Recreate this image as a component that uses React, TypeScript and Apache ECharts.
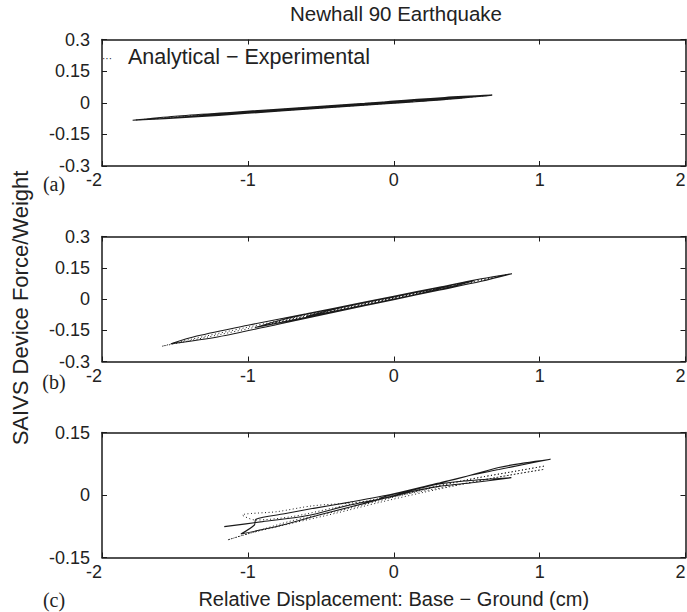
import React, { useEffect, useRef } from 'react';
import * as echarts from 'echarts';

const TITLE = 'Newhall 90 Earthquake';
const X_NAME = 'Relative Displacement: Base \u2212 Ground (cm)';
const Y_NAME = 'SAIVS Device Force/Weight';
const PANEL_LABELS = ['(a)', '(b)', '(c)'];
const LEGEND_DOTS = '\u00b7\u00b7\u00b7';
const LEGEND_TEXT = 'Analytical \u2212 Experimental';
const X_LIMITS = [-2, 2];
const X_STEP = 1;
const Y_LIMITS = [[-0.3, 0.3], [-0.3, 0.3], [-0.15, 0.15]];
const Y_STEP = 0.15;

// Panel (a)
const expA = [
  [-0.3, -0.013], [0.0, 0.008], [0.35, 0.025], [0.675, 0.036], [0.4, 0.018], [0.0, -0.002],
  [-0.5, -0.026], [-1.0, -0.050], [-1.4, -0.069], [-1.79, -0.083], [-1.5, -0.064], [-1.1, -0.045],
  [-0.6, -0.021], [-0.2, -0.003], [0.2, 0.017], [0.55, 0.031], [0.3, 0.012], [-0.2, -0.011],
  [-0.8, -0.040], [-1.2, -0.057], [-0.9, -0.037], [-0.4, -0.013], [0.1, 0.010], [0.45, 0.026],
  [0.15, 0.006], [-0.3, -0.016], [-0.7, -0.035], [-1.6, -0.076], [-1.0, -0.044], [-0.2, -0.006],
  [0.6, 0.033],
];
const anaA = [
  [-0.2, -0.007], [0.2, 0.014], [0.66, 0.035], [0.3, 0.014], [-0.4, -0.020], [-1.0, -0.047],
  [-1.77, -0.082], [-1.3, -0.057], [-0.6, -0.024], [0.1, 0.010], [0.5, 0.028], [0.0, 0.001],
  [-0.9, -0.042], [-0.3, -0.011],
];

// Panel (b)
const expB = [
  [-0.3, -0.031], [0.0, 0.013], [0.3, 0.055], [0.6, 0.097], [0.81, 0.1215], [0.6, 0.085],
  [0.3, 0.041], [0.0, -0.003], [-0.4, -0.062], [-0.8, -0.122], [-1.2, -0.181], [-1.527, -0.2146],
  [-1.35, -0.178], [-1.0, -0.126], [-0.6, -0.071], [-0.2, -0.015], [0.2, 0.040], [0.55, 0.088],
  [0.3, 0.043], [0.0, 0.000], [-0.5, -0.074], [-0.95, -0.137], [-0.7, -0.089], [-0.3, -0.032],
  [0.1, 0.025], [0.4, 0.066], [0.15, 0.022], [-0.3, -0.043], [-0.6, -0.084], [-0.35, -0.040],
  [0.0, 0.010], [0.25, 0.044],
];
const anaB = [
  [-0.2, -0.022], [0.2, 0.036], [0.5, 0.079], [0.79, 0.119], [0.55, 0.082], [0.2, 0.031],
  [-0.2, -0.027], [-0.7, -0.099], [-1.2, -0.172], [-1.59, -0.227], [-1.4, -0.195], [-1.0, -0.135],
  [-0.6, -0.077], [-0.2, -0.019], [0.2, 0.038], [0.5, 0.081], [0.2, 0.033], [-0.3, -0.040],
  [-0.9, -0.127], [-0.5, -0.065], [0.0, 0.006], [0.3, 0.049],
];

// Panel (c)
const expC = [
  [-0.1, -0.008], [0.0, 0.002], [0.25, 0.023], [0.45, 0.04], [0.72, 0.066], [0.9, 0.077],
  [1.075, 0.0857], [0.9, 0.074], [0.72, 0.061], [0.5, 0.045], [0.3, 0.028], [0.0, 0.003],
  [-0.3, -0.017], [-0.55, -0.032], [-0.75, -0.045], [-0.945, -0.058], [-0.955, -0.072],
  [-1.048, -0.0936], [-0.9, -0.083], [-0.74, -0.07], [-0.5, -0.047], [-0.3, -0.029],
  [-0.1, -0.011], [0.274, 0.024], [0.5, 0.034], [0.806, 0.0416], [0.55, 0.03], [0.3, 0.02],
  [0.1, 0.006], [0.0, -0.003], [-0.3, -0.024], [-0.6, -0.05], [-0.9, -0.064], [-1.162, -0.076],
];
const anaC = [
  [-0.2, -0.02], [0.0, -0.002], [0.3, 0.022], [0.6, 0.043], [0.85, 0.058], [1.036, 0.0696],
  [0.8, 0.055], [0.5, 0.036], [0.2, 0.012], [-0.1, -0.014], [-0.4, -0.04], [-0.7, -0.062],
  [-0.95, -0.088], [-1.14, -0.108], [-1.0, -0.093], [-0.7, -0.068], [-0.4, -0.044],
  [-0.1, -0.018], [0.2, 0.006], [0.5, 0.028], [0.8, 0.048], [1.03, 0.0616], [0.7, 0.042],
  [0.4, 0.022], [0.1, 0.003], [-0.2, -0.016], [-0.557, -0.026], [-0.8, -0.04], [-1.037, -0.048],
  [-0.95, -0.06], [-0.7, -0.052], [-0.4, -0.03], [-0.1, -0.008],
];

const EXPERIMENTAL = [expA, expB, expC];
const ANALYTICAL = [anaA, anaB, anaC];

const SANS = '"Liberation Sans", Arial, Helvetica, sans-serif';
const SERIF = '"Liberation Serif", "Times New Roman", serif';
const INK = '#1a1a1a';

const GRIDS = [
  { left: 102, top: 39.5, width: 583.5, height: 126.5, outerBoundsMode: 'none', containLabel: false },
  { left: 102, top: 236.5, width: 583.5, height: 125, outerBoundsMode: 'none', containLabel: false },
  { left: 102, top: 432.5, width: 583.5, height: 125, outerBoundsMode: 'none', containLabel: false },
];
const PANEL_LABEL_Y = [184, 382, 600];

export default function App() {
  const ref = useRef<HTMLDivElement>(null);

  useEffect(() => {
    if (!ref.current) return;
    const chart = echarts.init(ref.current, undefined, { renderer: 'svg' });

    const axisLine = { show: true, onZero: false, lineStyle: { color: INK, width: 1.5 } };
    const tick = { show: true, inside: true, length: 5, lineStyle: { color: INK, width: 1 } };
    const labelStyle = { color: '#222', fontSize: 18, fontFamily: SANS };

    const xAxis: any[] = [];
    const yAxis: any[] = [];
    const series: any[] = [];

    GRIDS.forEach((_, i) => {
      xAxis.push({
        type: 'value', gridIndex: i, position: 'bottom',
        min: X_LIMITS[0], max: X_LIMITS[1], interval: X_STEP,
        axisLine, axisTick: tick, splitLine: { show: false },
        axisLabel: { ...labelStyle, margin: 5, alignMinLabel: 'right', alignMaxLabel: 'right' },
        ...(i === 2 ? {
          name: X_NAME, nameLocation: 'middle', nameGap: 31,
          nameTextStyle: { color: '#222', fontSize: 20, fontFamily: SANS },
        } : {}),
      });
      xAxis.push({
        type: 'value', gridIndex: i, position: 'top',
        min: X_LIMITS[0], max: X_LIMITS[1], interval: X_STEP,
        axisLine, axisTick: tick, splitLine: { show: false }, axisLabel: { show: false },
      });
      yAxis.push({
        type: 'value', gridIndex: i, position: 'left',
        min: Y_LIMITS[i][0], max: Y_LIMITS[i][1], interval: Y_STEP,
        axisLine, axisTick: tick, splitLine: { show: false },
        axisLabel: { ...labelStyle, margin: 12 },
      });
      yAxis.push({
        type: 'value', gridIndex: i, position: 'right',
        min: Y_LIMITS[i][0], max: Y_LIMITS[i][1], interval: Y_STEP,
        axisLine, axisTick: tick, splitLine: { show: false }, axisLabel: { show: false },
      });

      series.push({
        name: 'Analytical', type: 'line', xAxisIndex: i * 2, yAxisIndex: i * 2,
        data: ANALYTICAL[i], showSymbol: false, symbol: 'none', smooth: 0.3,
        lineStyle: { color: INK, width: 1, type: [1, 2.5] }, z: 2,
      });
      series.push({
        name: 'Experimental', type: 'line', xAxisIndex: i * 2, yAxisIndex: i * 2,
        data: EXPERIMENTAL[i], showSymbol: false, symbol: 'none', smooth: 0.3,
        lineStyle: { color: INK, width: 1.1 }, z: 3,
      });
    });

    const graphic: any[] = [
      {
        type: 'text', x: 102, y: 58,
        style: {
          text: LEGEND_DOTS, fontSize: 10, fontFamily: SANS, fill: INK,
          verticalAlign: 'middle',
        },
      },
      {
        type: 'text', x: 128, y: 57,
        style: {
          text: LEGEND_TEXT, fontSize: 21.5, fontFamily: SANS, fill: '#222',
          verticalAlign: 'middle',
        },
      },
      {
        type: 'text', x: 20, y: 308, rotation: Math.PI / 2,
        style: {
          text: Y_NAME, fontSize: 22, fontFamily: SANS, fill: '#222',
          align: 'center', verticalAlign: 'middle',
        },
      },
      ...PANEL_LABELS.map((t, i) => ({
        type: 'text', x: 54, y: PANEL_LABEL_Y[i],
        style: {
          text: t, fontSize: 20, fontFamily: SERIF, fill: '#222',
          align: 'center', verticalAlign: 'middle',
        },
      })),
    ];

    chart.setOption({
      animation: false,
      backgroundColor: '#fff',
      title: {
        text: TITLE, left: 396, top: 3, padding: 0, textAlign: 'center',
        textStyle: { color: '#222', fontSize: 20.5, fontWeight: 'normal', fontFamily: SANS },
      },
      grid: GRIDS,
      xAxis,
      yAxis,
      series,
      graphic,
    });

    return () => chart.dispose();
  }, []);

  return (
    <div
      ref={ref}
      style={{ position: 'absolute', left: 0, top: 0, width: 687, height: 612, background: '#fff' }}
    />
  );
}
